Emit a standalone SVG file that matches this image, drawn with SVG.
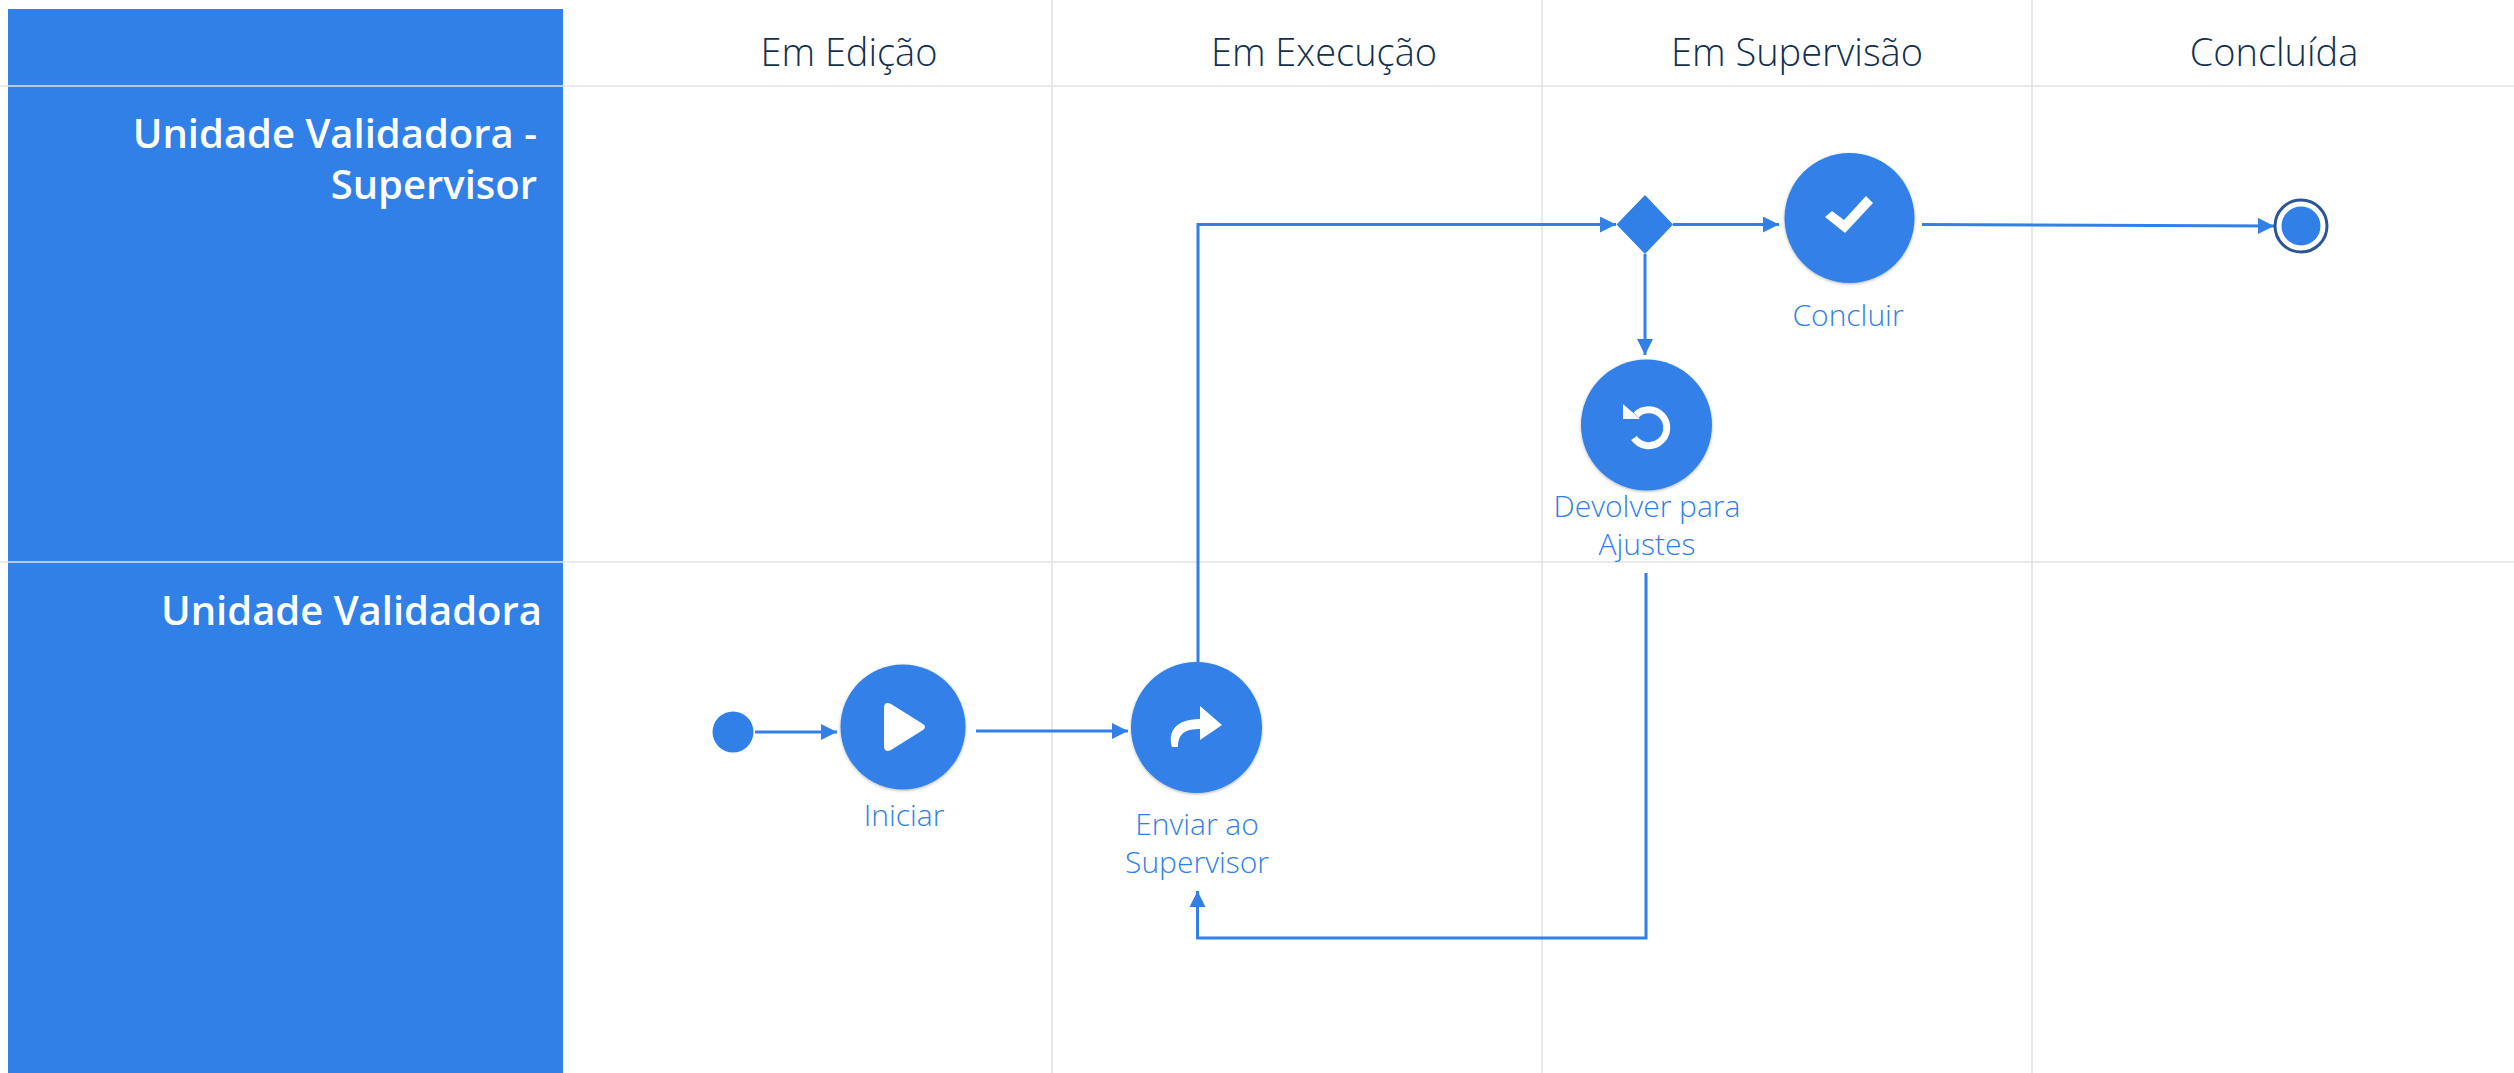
<svg xmlns="http://www.w3.org/2000/svg" width="2514" height="1073" viewBox="0 0 2514 1073">
<style>
text{font-family:"Open Sans","Liberation Sans",sans-serif}
.col{font-size:38px;font-weight:300;fill:#12304f;text-anchor:middle}
.lane{font-size:40px;font-weight:600;fill:#fff;text-anchor:end}
.lbl{font-size:30px;font-weight:300;fill:#3080e8;text-anchor:middle}
.grid{stroke:#e2e2e2;stroke-width:1.5;fill:none}
.con{stroke:#3080e8;stroke-width:3;fill:none;marker-end:url(#arrow)}
.fill{fill:#3080e8}
.ic{fill:#fff}
</style>
<defs>
<marker id="arrow" markerUnits="userSpaceOnUse" markerWidth="17" markerHeight="16" refX="16" refY="8" orient="auto"><path d="M0 0L16 8L0 16Z" fill="#3080e8"/></marker>
<filter id="soft" x="-10%" y="-10%" width="120%" height="125%"><feDropShadow dx="0" dy="1" stdDeviation="1.5" flood-color="#000" flood-opacity=".3"/></filter>
</defs>
<rect width="2514" height="1073" fill="#fff"/>
<g id="lanes">
<rect class="fill" x="8" y="9" width="555" height="1064"/>
<path class="grid" d="M0 86H2514M0 562H2514M1052 0V1073M1542 0V1073M2032 0V1073"/>
<text class="col" x="849" y="66">Em Edição</text>
<text class="col" x="1324" y="66">Em Execução</text>
<text class="col" x="1797" y="66">Em Supervisão</text>
<text class="col" x="2274" y="66">Concluída</text>
<text class="lane" x="537" y="148">Unidade Validadora -</text>
<text class="lane" x="537" y="199">Supervisor</text>
<text class="lane" x="542" y="625">Unidade Validadora</text>
</g>
<g id="connectors">
<path class="con" d="M755 732H837"/>
<path class="con" d="M976 731H1128"/>
<path class="con" d="M1198 662V224.500H1616"/>
<path class="con" d="M1673 224.500H1779"/>
<path class="con" d="M1645 254V355"/>
<path class="con" d="M1922 224.500L2274 226"/>
<path class="con" d="M1646 573V938H1197.500V891"/>
</g>
<g id="start"><circle class="fill" cx="733" cy="732" r="20.500"/></g>
<g id="iniciar"><circle class="fill" cx="903" cy="727" r="62.500" filter="url(#soft)"/>
<path class="ic" d="M884 708Q884 701 891 704L923 724Q927 727 923 730L891 750Q884 753 884 746Z"/>
<text class="lbl" x="904" y="826">Iniciar</text></g>
<g id="enviar"><circle class="fill" cx="1196.500" cy="727.500" r="65.500" filter="url(#soft)"/>
<path class="ic" d="M1172 747C1168 733 1174 719 1200 719V706L1222 725L1200 740V729C1186 729 1178 733 1178 747Z"/>
<text class="lbl" x="1197" y="835">Enviar ao</text>
<text class="lbl" x="1197" y="873">Supervisor</text></g>
<g id="gateway"><path class="fill" d="M1645 195L1673 224.500L1645 254L1616.500 224.500Z"/></g>
<g id="concluir"><circle class="fill" cx="1849.500" cy="218" r="65" filter="url(#soft)"/>
<path class="ic" d="M1825 217L1832 211L1844 220L1866 196L1873 203L1845 233Z"/>
<text class="lbl" x="1848" y="326">Concluir</text></g>
<g id="devolver"><circle class="fill" cx="1646.500" cy="425" r="65.500" filter="url(#soft)"/>
<path fill="none" stroke="#fff" stroke-width="7" d="M1636 415A18 18 0 1 1 1634 438"/>
<path class="ic" d="M1623 404L1640 419H1623Z"/>
<text class="lbl" x="1647" y="517">Devolver para</text>
<text class="lbl" x="1647" y="555">Ajustes</text></g>
<g id="end"><circle cx="2301" cy="226" r="26" fill="#fff" stroke="#2c5596" stroke-width="3"/><circle class="fill" cx="2301" cy="226" r="19.500"/></g>
</svg>
